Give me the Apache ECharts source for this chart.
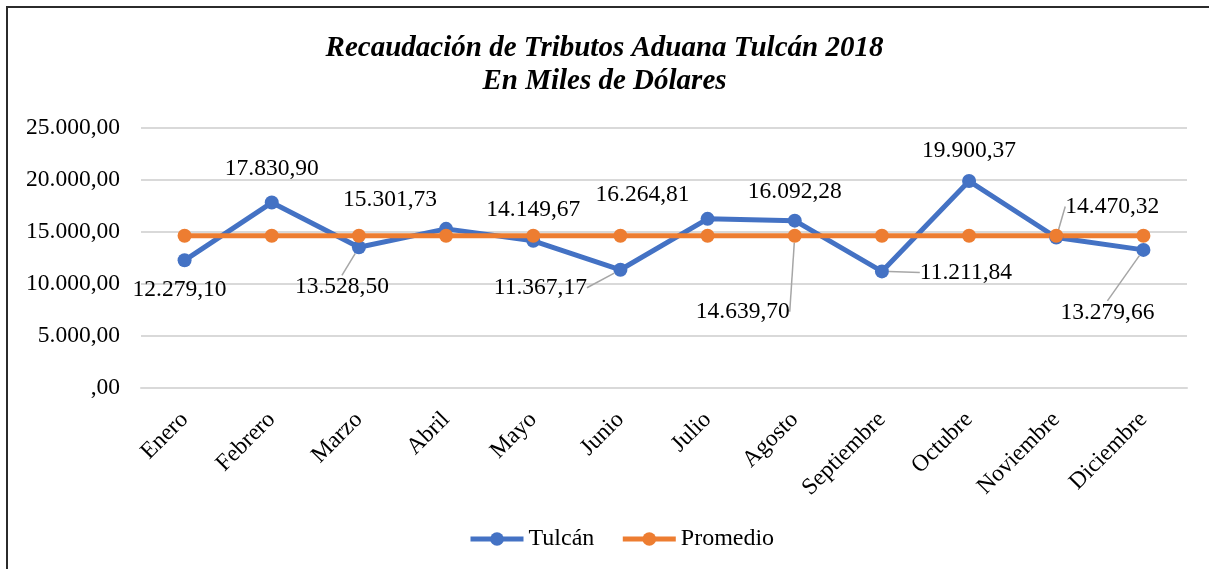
<!DOCTYPE html>
<html>
<head>
<meta charset="utf-8">
<script src="https://cdn.jsdelivr.net/npm/echarts@6/dist/echarts.min.js"></script>
<style>
  html, body { margin: 0; padding: 0; background: #fff; }
  #chart { width: 1209px; height: 569px; }
</style>
</head>
<body>
<div id="chart"></div>
<script>
  const meses = ['Enero', 'Febrero', 'Marzo', 'Abril', 'Mayo', 'Junio', 'Julio', 'Agosto', 'Septiembre', 'Octubre', 'Noviembre', 'Diciembre']
  const tulcan = [12279.10, 17830.90, 13528.50, 15301.73, 14149.67, 11367.17, 16264.81, 16092.28, 11211.84, 19900.37, 14470.32, 13279.66]
  const promedio = [14639.70, 14639.70, 14639.70, 14639.70, 14639.70, 14639.70, 14639.70, 14639.70, 14639.70, 14639.70, 14639.70, 14639.70]

  // label offsets from the point (px), and whether a leader line is drawn
  const tulcanOff = [[-5, 30], [0, -34], [-17, 40], [-56, -29], [0, -31], [-80, 18], [-65, -24], [0, -29], [84, 1], [0, -30], [56, -31], [-36, 63]]
  const tulcanLead = [false, false, true, false, false, true, false, false, true, false, true, true]
  const promedioOff = { 7: [-52, 76] }

  const font = 'Liberation Serif'
  const fs = 23.5

  function fmt(v) {
    const parts = Number(v).toFixed(2).split('.')
    let ent = parts[0].replace(/\B(?=(\d{3})+(?!\d))/g, '.')
    if (ent === '0') ent = ''
    return ent + ',' + parts[1]
  }

  function placer(offs) {
    return function (p) {
      const o = offs[p.dataIndex]
      if (!o) return
      return {
        x: p.rect.x + p.rect.width / 2 + o[0],
        y: p.rect.y + p.rect.height / 2 + o[1],
        align: 'center',
        verticalAlign: 'middle',
      }
    }
  }

  const chart = echarts.init(document.getElementById('chart'))
  const option = {
    animation: false,
    textStyle: { fontFamily: font },
    title: {
      text: 'Recaudación de Tributos Aduana Tulcán 2018\nEn Miles de Dólares',
      left: 'center',
      top: 32,
      padding: [0, 0, 0, 14],
      textStyle: {
        fontFamily: font,
        fontStyle: 'italic',
        fontWeight: 'bold',
        fontSize: 29,
        lineHeight: 33,
        color: '#000',
      },
    },
    graphic: [
      {
        type: 'polyline',
        shape: { points: [[7, 569], [7, 7], [1209, 7]] },
        style: { stroke: '#2b2b2b', lineWidth: 2, fill: null },
        silent: true,
      },
    ],
    legend: {
      bottom: 13,
      left: 463,
      itemWidth: 53,
      itemHeight: 17,
      itemGap: 26,
      lineStyle: { width: 5 },
      textStyle: { fontFamily: font, fontSize: 24, color: '#000' },
      data: ['Tulcán', 'Promedio'],
    },
    grid: {
      left: 141,
      right: 22,
      top: 128,
      bottom: 181,
    },
    xAxis: {
      type: 'category',
      data: meses,
      boundaryGap: true,
      axisLine: { lineStyle: { color: '#d9d9d9', width: 2 } },
      axisTick: { show: false },
      axisLabel: {
        rotate: 45,
        margin: 28,
        interval: 0,
        fontFamily: font,
        fontSize: fs,
        color: '#000',
      },
    },
    yAxis: {
      type: 'value',
      min: 0,
      max: 25000,
      interval: 5000,
      axisLine: { show: false },
      axisTick: { show: false },
      splitLine: { lineStyle: { color: '#d9d9d9', width: 2 } },
      axisLabel: {
        margin: 21,
        fontFamily: font,
        fontSize: fs,
        color: '#000',
        formatter: (v) => fmt(v),
      },
    },
    series: [
      {
        name: 'Tulcán',
        type: 'line',
        symbol: 'circle',
        symbolSize: 14,
        color: '#4472c4',
        lineStyle: { width: 5, color: '#4472c4' },
        itemStyle: { color: '#4472c4' },
        data: tulcan.map((v, i) => ({
          value: v,
          labelLine: { show: tulcanLead[i] },
        })),
        label: {
          show: true,
          position: 'inside',
          fontFamily: font,
          fontSize: fs,
          color: '#000',
          formatter: (p) => fmt(p.value),
        },
        labelLine: { show: true, lineStyle: { color: '#a6a6a6', width: 1.5 } },
        labelLayout: placer(tulcanOff),
      },
      {
        name: 'Promedio',
        type: 'line',
        symbol: 'circle',
        symbolSize: 14,
        color: '#ed7d31',
        lineStyle: { width: 5, color: '#ed7d31' },
        itemStyle: { color: '#ed7d31' },
        data: promedio.map((v, i) => ({
          value: v,
          label: { show: !!promedioOff[i] },
          labelLine: { show: !!promedioOff[i] },
        })),
        label: {
          show: false,
          position: 'inside',
          fontFamily: font,
          fontSize: fs,
          color: '#000',
          formatter: (p) => fmt(p.value),
        },
        labelLine: { show: true, lineStyle: { color: '#a6a6a6', width: 1.5 } },
        labelLayout: placer(promedioOff),
      },
    ],
  }
  chart.setOption(option)
</script>
</body>
</html>
